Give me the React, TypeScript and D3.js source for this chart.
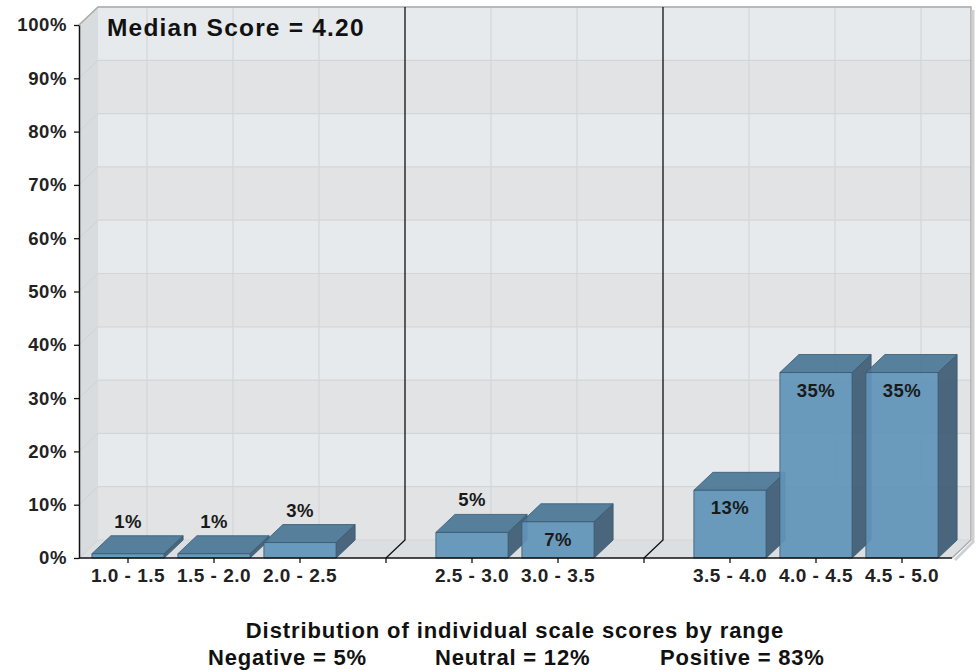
import React, { useRef, useEffect } from 'react';
import * as d3 from 'd3';

// slots along the x axis, "gap" slots hold the group separators
const slots = ['1.0 - 1.5', '1.5 - 2.0', '2.0 - 2.5', 'gap1', '2.5 - 3.0', '3.0 - 3.5', 'gap2', '3.5 - 4.0', '4.0 - 4.5', '4.5 - 5.0'];
const categories = ['1.0 - 1.5', '1.5 - 2.0', '2.0 - 2.5', '2.5 - 3.0', '3.0 - 3.5', '3.5 - 4.0', '4.0 - 4.5', '4.5 - 5.0'];
const values = [0.8, 0.8, 2.9, 4.8, 6.8, 12.7, 34.8, 34.8];
const labels = ['1%', '1%', '3%', '5%', '7%', '13%', '35%', '35%'];
const yTicks = [0, 10, 20, 30, 40, 50, 60, 70, 80, 90, 100];
const title = 'Median Score = 4.20';
const caption = 'Distribution of individual scale scores by range';
const summary = ['Negative = 5%', 'Neutral = 12%', 'Positive = 83%'];

const W = 976;
const H = 670;
const FONT = '"Liberation Sans", Arial, sans-serif';

const App = () => {
  const svgRef = useRef<SVGSVGElement>(null);

  useEffect(() => {
    const svg = d3.select(svgRef.current);
    svg.selectAll('*').remove();

    const left = 79, right = 952, top = 25, bottom = 558;
    const dx = 19, dy = -18;

    const x = d3.scaleBand().domain(slots).range([85, 945]).paddingInner(0.16).paddingOuter(0.08);
    const y = d3.scaleLinear().domain([0, 100]).range([bottom, top]);
    const cx = (s: string) => (x(s) as number) + x.bandwidth() / 2;

    // back wall with alternating bands
    const wall = svg.append('g');
    d3.pairs(yTicks).forEach(([a, b], i) => {
      wall.append('rect')
        .attr('x', left + dx).attr('y', y(b) + dy)
        .attr('width', right + dx - (left + dx)).attr('height', y(a) - y(b))
        .attr('fill', i % 2 === 0 ? '#e2e3e5' : '#e7eaed');
    });
    // left side wall
    wall.append('path')
      .attr('d', `M${left},${top}L${left + dx},${top + dy}L${left + dx},${bottom + dy}L${left},${bottom}Z`)
      .attr('fill', '#d8dcdf');
    // floor
    wall.append('path')
      .attr('d', `M${left},${bottom}L${left + dx},${bottom + dy}L${right + dx},${bottom + dy}L${right},${bottom}Z`)
      .attr('fill', '#dcdfe2');

    // grid lines
    const grid = svg.append('g').attr('stroke', '#d3d5d8').attr('stroke-width', 1.2).attr('fill', 'none');
    yTicks.forEach(t => {
      grid.append('path')
        .attr('d', `M${left},${y(t)}L${left + dx},${y(t) + dy}L${right + dx},${y(t) + dy}`);
    });
    categories.forEach(c => {
      grid.append('line')
        .attr('x1', cx(c) + dx).attr('x2', cx(c) + dx)
        .attr('y1', top + dy).attr('y2', bottom + dy);
    });

    // frame of the back wall
    svg.append('path')
      .attr('d', `M${left},${top}L${left + dx},${top + dy}L${right + dx},${top + dy}L${right + dx},${bottom + dy}L${right},${bottom}`)
      .attr('fill', 'none').attr('stroke', '#a9abad').attr('stroke-width', 1.5);
    svg.append('path')
      .attr('d', `M${right + dx + 2},${top + dy + 3}L${right + dx + 2},${bottom + dy + 2}L${right + 3},${bottom + 2}`)
      .attr('fill', 'none').attr('stroke', '#d0d0d0').attr('stroke-width', 3);

    // group separators
    ['gap1', 'gap2'].forEach(g => {
      svg.append('path')
        .attr('d', `M${cx(g) + dx},${top + dy}L${cx(g) + dx},${bottom + dy}L${cx(g)},${bottom}`)
        .attr('fill', 'none').attr('stroke', '#111').attr('stroke-width', 1.3);
    });

    // 3d bars
    const bw = x.bandwidth();
    const bars = svg.append('g').attr('stroke', '#3a5870').attr('stroke-width', 0.8).attr('stroke-linejoin', 'round');
    categories.forEach((c, i) => {
      const x0 = x(c) as number;
      const x1 = x0 + bw;
      const yt = y(values[i]);
      const g = bars.append('g').attr('fill-opacity', 0.93);
      g.append('path')
        .attr('d', `M${x1},${bottom}L${x1 + dx},${bottom + dy}L${x1 + dx},${yt + dy}L${x1},${yt}Z`)
        .attr('fill', '#3d5c75');
      g.append('path')
        .attr('d', `M${x0},${yt}L${x0 + dx},${yt + dy}L${x1 + dx},${yt + dy}L${x1},${yt}Z`)
        .attr('fill', '#4b7796');
      g.append('rect')
        .attr('x', x0).attr('y', yt).attr('width', bw).attr('height', bottom - yt)
        .attr('fill', '#6094b9');
    });

    // value labels
    svg.append('g')
      .selectAll('text')
      .data(categories)
      .join('text')
      .attr('x', c => cx(c))
      .attr('y', (c, i) => (bottom - y(values[i]) > 30 ? y(values[i]) + 24 : y(values[i]) - 26))
      .attr('text-anchor', 'middle')
      .attr('font-family', FONT).attr('font-weight', 'bold').attr('font-size', 18.5).attr('letter-spacing', 0.5)
      .attr('fill', '#1a1a1a')
      .text((c, i) => labels[i]);

    // y axis
    const yAxis = svg.append('g')
      .attr('transform', `translate(${left},0)`)
      .call(d3.axisLeft(y).tickValues(yTicks).tickFormat(d => `${d}%`).tickSize(5).tickSizeOuter(0).tickPadding(7));
    yAxis.select('.domain').attr('stroke', '#111').attr('stroke-width', 1.5);
    yAxis.selectAll('.tick line').attr('stroke', '#111').attr('stroke-width', 1.3);
    yAxis.selectAll('text')
      .attr('font-family', FONT).attr('font-weight', 'bold').attr('font-size', 18.5).attr('letter-spacing', 0.6)
      .attr('fill', '#222');

    // x axis
    const xAxis = svg.append('g')
      .attr('transform', `translate(0,${bottom})`)
      .call(d3.axisBottom(x).tickSize(5).tickSizeOuter(0).tickPadding(6)
        .tickFormat(d => (d.startsWith('gap') ? '' : d)));
    xAxis.select('.domain').remove();
    xAxis.append('line')
      .attr('x1', left).attr('x2', right).attr('y1', 0).attr('y2', 0)
      .attr('stroke', '#111').attr('stroke-width', 1.5);
    xAxis.selectAll('.tick line').attr('stroke', '#111').attr('stroke-width', 1.3);
    xAxis.selectAll('text')
      .attr('font-family', FONT).attr('font-weight', 'bold').attr('font-size', 19).attr('letter-spacing', 0.5)
      .attr('fill', '#222');

    // title inside the plot
    svg.append('text')
      .attr('x', 107).attr('y', 36)
      .attr('font-family', FONT).attr('font-weight', 'bold').attr('font-size', 24.5).attr('letter-spacing', 1.2)
      .attr('fill', '#111')
      .text(title);

    // caption lines
    svg.append('text')
      .attr('x', 515).attr('y', 638).attr('text-anchor', 'middle')
      .attr('font-family', FONT).attr('font-weight', 'bold').attr('font-size', 22).attr('letter-spacing', 0.9)
      .attr('fill', '#111')
      .text(caption);
    const summaryX = [208, 435, 660];
    svg.append('g')
      .selectAll('text')
      .data(summary)
      .join('text')
      .attr('x', (d, i) => summaryX[i]).attr('y', 665)
      .attr('font-family', FONT).attr('font-weight', 'bold').attr('font-size', 22).attr('letter-spacing', 0.8)
      .attr('fill', '#111')
      .text(d => d);
  }, []);

  return <svg ref={svgRef} width={W} height={H} style={{ position: 'absolute', left: 0, top: 0, background: '#fff' }} />;
};

export default App;
